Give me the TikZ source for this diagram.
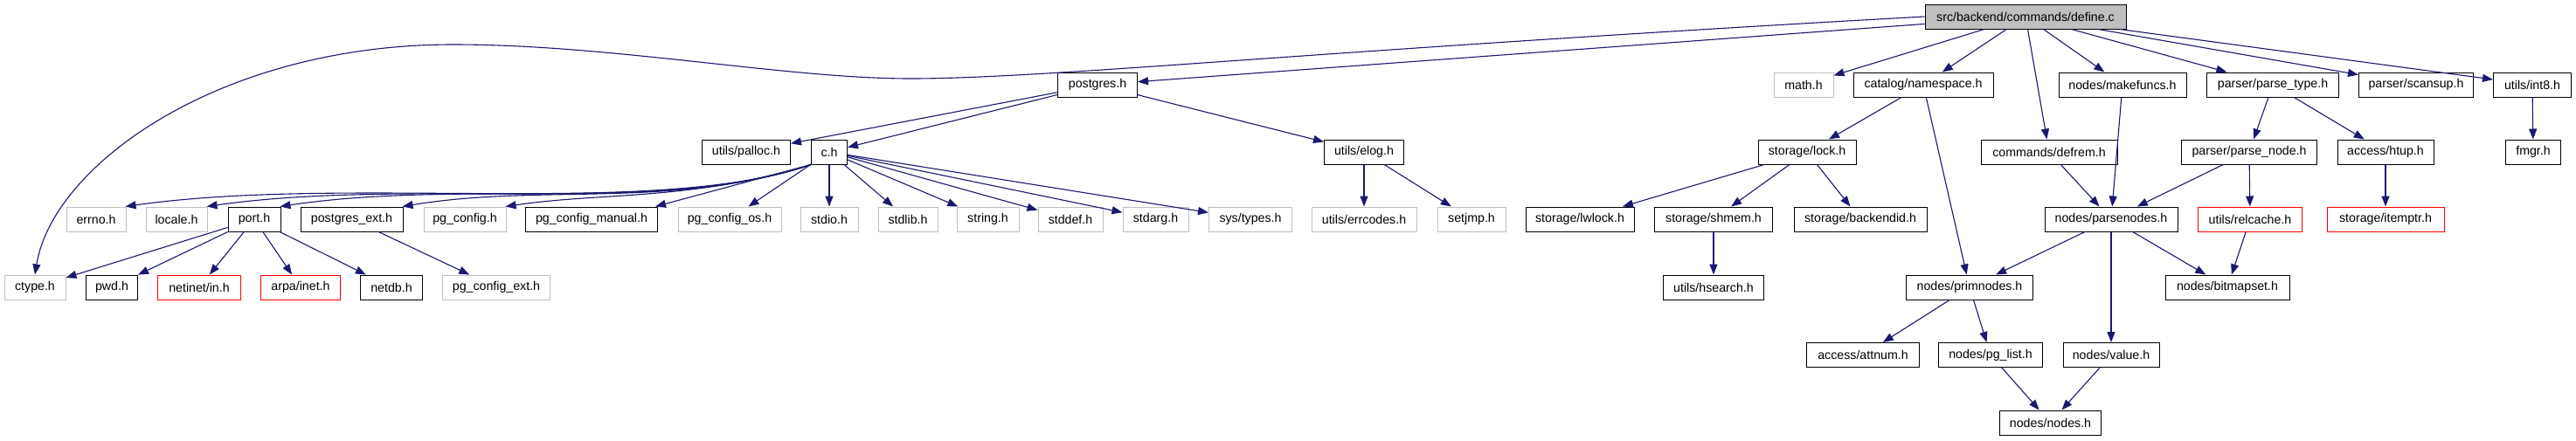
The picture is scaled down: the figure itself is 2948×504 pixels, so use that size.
\documentclass[tikz,border=0pt]{standalone}
\usepackage{fontspec}
\setmainfont{Liberation Sans}
\usetikzlibrary{arrows.meta}
\definecolor{edgecol}{HTML}{191970}
\definecolor{lgray}{HTML}{BFBFBF}
\definecolor{bred}{HTML}{FF0000}
\begin{document}
\begin{tikzpicture}[x=1pt,y=-1pt,
  box/.style={draw=black, line width=1pt, minimum height=28pt, inner sep=0pt, font=\fontsize{14.2pt}{17pt}\selectfont, text=black},
  ext/.style={box, draw=lgray},
  miss/.style={box, draw=bred},
  root/.style={box, fill=lgray},
  dep/.style={draw=edgecol, line width=1.1pt, -{Triangle[length=12pt,width=9pt]}}
]
\fill[white] (0,0) rectangle (2948,504);
\useasboundingbox (0,0) rectangle (2948,504);
% row 1
\node[root, minimum width=230pt] (def) at (2318,19) {src/backend/commands/define.c};
% row 2
\node[box, minimum width=91pt] (postgres) at (1256,97) {postgres.h};
\node[ext, minimum width=68pt] (math) at (2064,97) {math.h};
\node[box, minimum width=160pt] (namespace) at (2201,97) {catalog/namespace.h};
\node[box, minimum width=146pt] (makefuncs) at (2429,97) {nodes/makefuncs.h};
\node[box, minimum width=151pt] (parsetype) at (2601,97) {parser/parse\_type.h};
\node[box, minimum width=131pt] (scansup) at (2765,97) {parser/scansup.h};
\node[box, minimum width=89pt] (int8) at (2898,97) {utils/int8.h};
% row 3
\node[box, minimum width=101pt] (palloc) at (854,174) {utils/palloc.h};
\node[box, minimum width=41pt] (ch) at (949,174) {c.h};
\node[box, minimum width=91pt] (elog) at (1561,174) {utils/elog.h};
\node[box, minimum width=112pt] (lock) at (2068,174) {storage/lock.h};
\node[box, minimum width=156pt] (defrem) at (2345,174) {commands/defrem.h};
\node[box, minimum width=155pt] (parsenode) at (2574,174) {parser/parse\_node.h};
\node[box, minimum width=110pt] (htup) at (2730,174) {access/htup.h};
\node[box, minimum width=63pt] (fmgr) at (2899,174) {fmgr.h};
% row 4
\node[ext, minimum width=68pt] (errno) at (110,251) {errno.h};
\node[ext, minimum width=70pt] (locale) at (202,251) {locale.h};
\node[box, minimum width=60pt] (port) at (291,251) {port.h};
\node[box, minimum width=117pt] (pgext) at (402.5,251) {postgres\_ext.h};
\node[ext, minimum width=94pt] (pgconfig) at (532,251) {pg\_config.h};
\node[box, minimum width=151pt] (pgmanual) at (677,251) {pg\_config\_manual.h};
\node[ext, minimum width=118pt] (pgos) at (835,251) {pg\_config\_os.h};
\node[ext, minimum width=66pt] (stdio) at (949,251) {stdio.h};
\node[ext, minimum width=68pt] (stdlib) at (1039,251) {stdlib.h};
\node[ext, minimum width=71pt] (string) at (1130.5,251) {string.h};
\node[ext, minimum width=74pt] (stddef) at (1225,251) {stddef.h};
\node[ext, minimum width=75pt] (stdarg) at (1322.5,251) {stdarg.h};
\node[ext, minimum width=95pt] (systypes) at (1431,251) {sys/types.h};
\node[ext, minimum width=120pt] (errcodes) at (1561,251) {utils/errcodes.h};
\node[ext, minimum width=78pt] (setjmp) at (1684,251) {setjmp.h};
\node[box, minimum width=124pt] (lwlock) at (1808,251) {storage/lwlock.h};
\node[box, minimum width=135pt] (shmem) at (1961,251) {storage/shmem.h};
\node[box, minimum width=152pt] (backendid) at (2129,251) {storage/backendid.h};
\node[box, minimum width=152pt] (parsenodes) at (2416,251) {nodes/parsenodes.h};
\node[miss, minimum width=119pt] (relcache) at (2575,251) {utils/relcache.h};
\node[miss, minimum width=134pt] (itemptr) at (2730,251) {storage/itemptr.h};
% row 5
\node[ext, minimum width=70pt] (ctype) at (40,329) {ctype.h};
\node[box, minimum width=59pt] (pwd) at (128,329) {pwd.h};
\node[miss, minimum width=95pt] (netinet) at (228,329) {netinet/in.h};
\node[miss, minimum width=91pt] (arpa) at (344,329) {arpa/inet.h};
\node[box, minimum width=71pt] (netdb) at (448,329) {netdb.h};
\node[ext, minimum width=123pt] (pgcfgext) at (568,329) {pg\_config\_ext.h};
\node[box, minimum width=115pt] (hsearch) at (1961,329) {utils/hsearch.h};
\node[box, minimum width=145pt] (primnodes) at (2254,329) {nodes/primnodes.h};
\node[box, minimum width=142pt] (bitmapset) at (2549,329) {nodes/bitmapset.h};
% row 6
\node[box, minimum width=129pt] (attnum) at (2132,406.5) {access/attnum.h};
\node[box, minimum width=119pt] (pglist) at (2278,406.5) {nodes/pg\_list.h};
\node[box, minimum width=110pt] (value) at (2416,406.5) {nodes/value.h};
% row 7
\node[box, minimum width=116pt] (nodesh) at (2346.5,484) {nodes/nodes.h};

% edges from define.c
\draw[dep] (def.west) .. controls (1500,58) and (1200,90) .. (1042,90)
  .. controls (900,90) and (700,51) .. (519,51)
  .. controls (250,51) and (60,190) .. (ctype.north);
\draw[dep] (def) -- (postgres);
\draw[dep] (def) -- (math);
\draw[dep] (def) -- (namespace);
\draw[dep] (def) -- (defrem);
\draw[dep] (def) -- (makefuncs);
\draw[dep] (def) -- (parsetype);
\draw[dep] (def) -- (scansup);
\draw[dep] (def) -- (int8);
% postgres.h
\draw[dep] (postgres) -- (palloc);
\draw[dep] (postgres) -- (ch);
\draw[dep] (postgres) -- (elog);
% c.h
\draw[dep] (ch.south west) .. controls (750,250) and (400,200) .. ([xshift=-1pt]errno.north east);
\draw[dep] (ch.south west) .. controls (755,248) and (470,203) .. ([xshift=-1pt]locale.north east);
\draw[dep] (ch.south west) .. controls (760,245) and (530,205) .. ([xshift=-1pt]port.north east);
\draw[dep] (ch.south west) .. controls (770,240) and (620,210) .. ([xshift=-1pt]pgext.north east);
\draw[dep] (ch.south west) .. controls (790,230) and (690,220) .. ([xshift=-1pt]pgconfig.north east);
\draw[dep] (ch.south west) -- ([xshift=-3pt]pgmanual.north east);
\draw[dep] (ch) -- (pgos);
\draw[dep] (ch) -- (stdio);
\draw[dep] (ch) -- (stdlib);
\draw[dep] (ch) -- (string);
\draw[dep] (ch) -- (stddef);
\draw[dep] (ch) -- (stdarg);
\draw[dep] (ch) -- (systypes);
% port.h
\draw[dep] (port) -- (ctype);
\draw[dep] (port) -- (pwd);
\draw[dep] (port) -- (netinet);
\draw[dep] (port) -- (arpa);
\draw[dep] (port) -- (netdb);
\draw[dep] (pgext) -- (pgcfgext);
% elog
\draw[dep] (elog) -- (errcodes);
\draw[dep] (elog) -- (setjmp);
% namespace
\draw[dep] (namespace) -- (lock);
\draw[dep] (namespace) -- (primnodes);
\draw[dep] (lock) -- (lwlock);
\draw[dep] (lock) -- (shmem);
\draw[dep] (lock) -- (backendid);
\draw[dep] (shmem) -- (hsearch);
% parse nodes
\draw[dep] (makefuncs) -- (parsenodes);
\draw[dep] (defrem) -- (parsenodes);
\draw[dep] (parsetype) -- (parsenode);
\draw[dep] (parsetype) -- (htup);
\draw[dep] (parsenode) -- (parsenodes);
\draw[dep] (parsenode) -- (relcache);
\draw[dep] (htup) -- (itemptr);
\draw[dep] (int8) -- (fmgr);
\draw[dep] (parsenodes) -- (primnodes);
\draw[dep] (parsenodes) -- (value);
\draw[dep] (parsenodes) -- (bitmapset);
\draw[dep] (relcache) -- (bitmapset);
\draw[dep] (primnodes) -- (attnum);
\draw[dep] (primnodes) -- (pglist);
\draw[dep] (pglist) -- (nodesh);
\draw[dep] (value) -- (nodesh);
\end{tikzpicture}
\end{document}
